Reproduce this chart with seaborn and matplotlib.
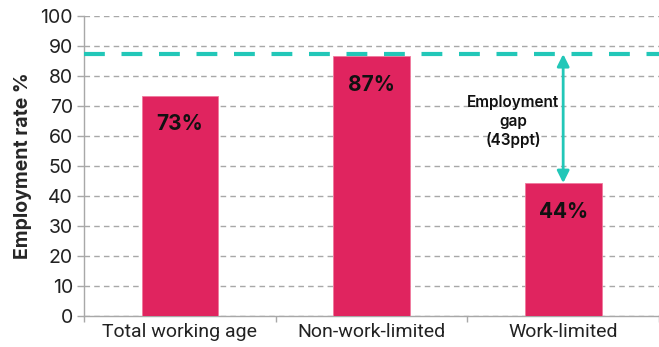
import matplotlib
matplotlib.use("Agg")
import matplotlib.pyplot as plt
import seaborn as sns
import pandas as pd

# Employment rates by group (%)
categories = ["Total working age", "Non-work-limited", "Work-limited"]
rates = [73.4, 86.6, 44.3]
benchmark = 87.3          # non-work-limited reference line
gap_text = "Employment\ngap\n(43ppt)"
y_ticks = [0, 10, 20, 30, 40, 50, 60, 70, 80, 90, 100]

bar_color = "#E0245F"
teal = "#22C7B8"
grid_gray = "#A8A8A8"

sns.set_theme(style="white")
plt.rcParams["font.family"] = ["Inter", "DejaVu Sans"]

df = pd.DataFrame({"group": categories, "rate": rates})

fig = plt.figure(figsize=(6.59, 3.47), dpi=100)
ax = fig.add_axes([0.1275, 0.0893, 0.8725, 0.8647])

sns.barplot(data=df, x="group", y="rate", color=bar_color, width=0.4,
            saturation=1, edgecolor="#F07A9E", linewidth=0.6, ax=ax, zorder=3)

ax.set_xlim(-0.5, 2.46)
ax.set_ylim(0, 100)
ax.set_yticks(y_ticks)
ax.yaxis.grid(True, linestyle=(0, (4, 3)), color=grid_gray, linewidth=1.0, zorder=0)
ax.set_axisbelow(True)

for side in ["top", "right"]:
    ax.spines[side].set_visible(False)
for side in ["left", "bottom"]:
    ax.spines[side].set_color("#A8A8A8")
    ax.spines[side].set_linewidth(1.0)

# Category separators as tick marks on the x-axis
ax.set_xticks([0, 1, 2])
ax.set_xticklabels(categories, family=["Roboto", "DejaVu Sans"], fontsize=14)
ax.set_xticks([-0.5, 0.5, 1.5, 2.5], minor=True)
ax.tick_params(axis="x", which="major", length=0, pad=5, colors="#222222")
ax.tick_params(axis="x", which="minor", length=4, width=1, color="#A8A8A8", bottom=True)
ax.tick_params(axis="y", length=5, width=1, color="#A8A8A8", labelsize=14,
               labelcolor="#222222", left=True, pad=3)
ax.set_xlabel("")
ax.set_ylabel("Employment rate %", fontsize=14, fontweight="bold", labelpad=6)

# Value labels inside the bars
for i, v in enumerate(rates):
    ax.text(i, v - 9.5, f"{round(v)}%", ha="center", va="center",
            fontsize=15, fontweight="bold", color="#111111", zorder=5)

# Benchmark line
ax.axhline(benchmark, color=teal, linestyle=(0, (5, 4)), linewidth=3, zorder=4)

# Gap arrow between the benchmark and the work-limited bar
ax.annotate("", xy=(2, rates[2]), xytext=(2, benchmark),
            arrowprops=dict(arrowstyle="<|-|>", color=teal, lw=2,
                            mutation_scale=18, shrinkA=0, shrinkB=0), zorder=5)
ax.text(1.74, 64.7, gap_text, ha="center", va="center", fontsize=11,
        fontweight="semibold", color="#111111", linespacing=1.28, zorder=5)

fig.savefig("out.png", dpi=100)
